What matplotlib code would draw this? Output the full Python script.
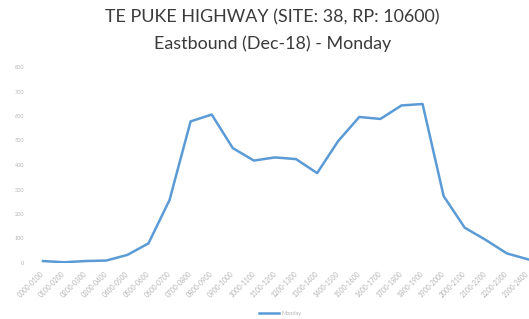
import matplotlib.pyplot as plt
import numpy as np

# hourly volumes
hours = ["%02d00-%02d00" % (h, h + 1) for h in range(24)]
volumes = [8, 3, 8, 10, 33, 80, 257, 578, 606, 469, 418, 431,
           424, 367, 498, 596, 588, 643, 649, 273, 144, 94, 39, 15]
y_ticks = [0, 100, 200, 300, 400, 500, 600, 700, 800]

W, H = 529, 319
fig = plt.figure(figsize=(W / 100, H / 100), dpi=100)
plt.rcParams["font.family"] = ["Lato", "DejaVu Sans"]

# axes placed in pixel terms
left, right, bottom, top = 35, 529, 263, 67
ax = fig.add_axes([left / W, (H - bottom) / H, (right - left) / W, (bottom - top) / H])

x = np.arange(len(hours))
ax.plot(x, volumes, color="#5B9BD5", linewidth=1.8, label="Monday", solid_joinstyle="round")

px = 21.09  # pixels per category
ax.set_xlim(-(43 - left) / px, 23 + (right - 528) / px)
ax.set_ylim(0, 800)
ax.set_yticks(y_ticks)
ax.set_xticks(x)
ax.set_xticklabels(hours, rotation=45, ha="right", va="center", rotation_mode="anchor")
ax.tick_params(axis="both", length=0, labelcolor="#b3b3b3")
ax.tick_params(axis="y", pad=8, labelsize=4)
ax.tick_params(axis="x", pad=7, labelsize=4.8)
for s in ax.spines.values():
    s.set_visible(False)

fig.text(0.515, 0.945, "TE PUKE HIGHWAY (SITE: 38, RP: 10600)", ha="center", va="center",
         fontsize=12.9, color="#3a3a3a")
fig.text(0.515, 0.862, "Eastbound (Dec-18) - Monday", ha="center", va="center",
         fontsize=12.9, color="#3a3a3a")

fig.legend(loc="center", bbox_to_anchor=(0.53, 0.018), frameon=False, fontsize=4,
           labelcolor="#b3b3b3", handlelength=3.5, handletextpad=0.5)

fig.savefig("out.png", dpi=100, facecolor="white")
